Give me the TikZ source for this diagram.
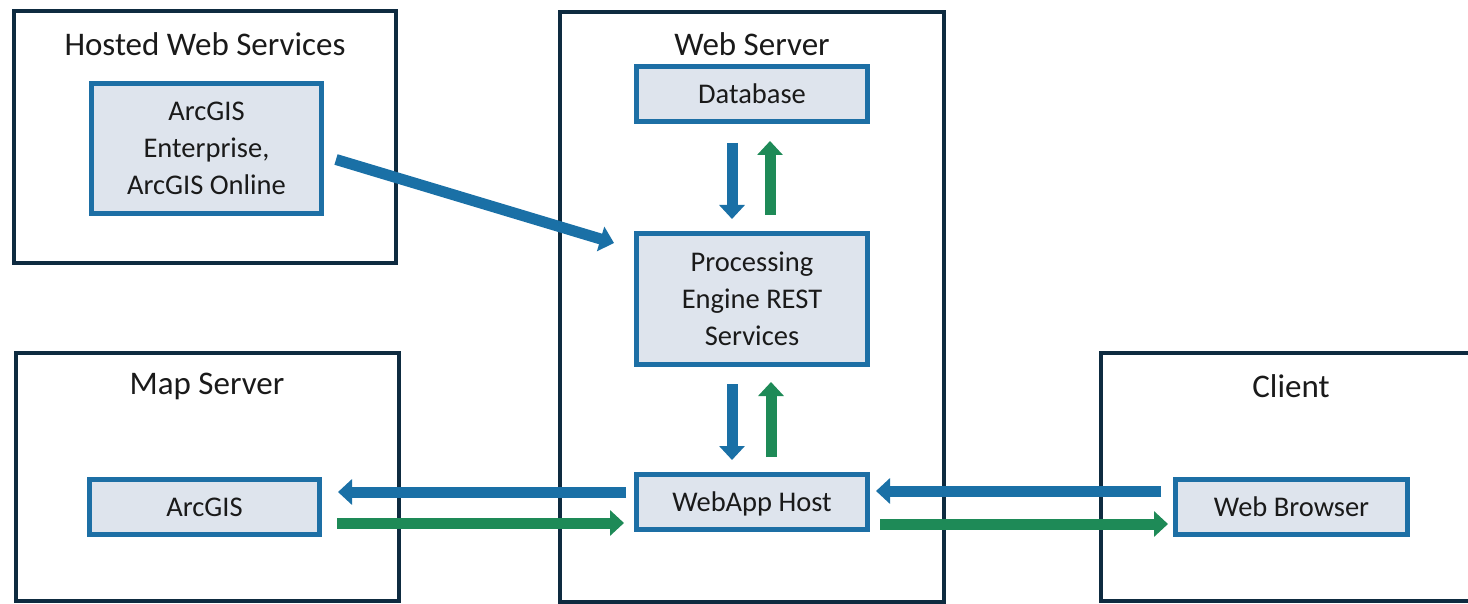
\documentclass[tikz,border=0pt]{standalone}
\usepackage{fontspec}
\setmainfont{Carlito}
\usetikzlibrary{arrows.meta,calc}
\definecolor{navy}{HTML}{0E2B40}
\definecolor{ibl}{HTML}{1D6FA5}
\definecolor{ifill}{HTML}{DEE4ED}
\definecolor{ablue}{HTML}{1A70A6}
\definecolor{agreen}{HTML}{1E8A57}
\definecolor{txt}{HTML}{1A1A1A}
\begin{document}
\begin{tikzpicture}[x=1pt,y=-1pt,
 outer/.style={draw=navy,line width=4pt,inner sep=0pt,outer sep=0pt},
 title/.style={font=\fontsize{33}{38}\selectfont,text=txt,inner sep=0pt},
 inbox/.style={draw=ibl,line width=5pt,fill=ifill,text=txt,font=\fontsize{28.5}{37}\selectfont,align=center,inner sep=0pt,outer sep=2.5pt,text depth=0pt},
 barb/.style={line width=11pt,-{Triangle[width=25pt,length=14pt]}},
]
\useasboundingbox[fill=white] (0,0) rectangle (1468,604);
% containers
\node[outer,minimum width=382pt,minimum height=252pt] (hws) at (205,137) {};
\node[outer,minimum width=384pt,minimum height=590pt] (ws) at (752,307) {};
\node[outer,minimum width=383pt,minimum height=248pt] (ms) at (207.5,477) {};
\node[outer,minimum width=379pt,minimum height=248pt] (cl) at (1290.5,477) {};
% titles
\node[title] (thws) at (205,44) {Hosted Web Services};
\node[title] (tws) at (752,44) {Web Server};
\node[title] (tms) at (207,386) {Map Server};
\node[title] (tcl) at (1291,386) {Client};
% inner boxes
\node[inbox,minimum width=230pt,minimum height=130pt] (ent) at (206.5,148.5) {ArcGIS\\Enterprise,\\ArcGIS Online};
\node[inbox,minimum width=231pt,minimum height=55pt] (db) at (752,94) {Database};
\node[inbox,minimum width=231pt,minimum height=131pt] (proc) at (752,299) {Processing\\Engine REST\\Services};
\node[inbox,minimum width=231pt,minimum height=55pt] (webapp) at (752,502) {WebApp Host};
\node[inbox,minimum width=230pt,minimum height=55pt] (arc) at (204.5,507) {ArcGIS};
\node[inbox,minimum width=232pt,minimum height=55pt] (wb) at (1291.5,507) {Web Browser};
% arrows
\draw[barb,ablue] ($(ent.east)+(12,11)$) -- ($(proc.west)+(-20,-56)$);
\draw[barb,ablue] ($(db.south)+(-20,19)$) -- ($(proc.north)+(-20,-12)$);
\draw[barb,agreen] ($(proc.north)+(18,-16)$) -- ($(db.south)+(18,17)$);
\draw[barb,ablue] ($(proc.south)+(-20,17)$) -- ($(webapp.north)+(-20,-12)$);
\draw[barb,agreen] ($(webapp.north)+(19,-15)$) -- ($(proc.south)+(19,15)$);
\draw[barb,ablue] ($(webapp.west)+(-8,-10)$) -- ($(arc.east)+(16,-15)$);
\draw[barb,agreen] ($(arc.east)+(15,16)$) -- ($(webapp.west)+(-10,21)$);
\draw[barb,ablue] ($(wb.west)+(-12,-16)$) -- ($(webapp.east)+(6,-11)$);
\draw[barb,agreen] ($(webapp.east)+(10,22)$) -- ($(wb.west)+(-5,17)$);
\end{tikzpicture}
\end{document}
